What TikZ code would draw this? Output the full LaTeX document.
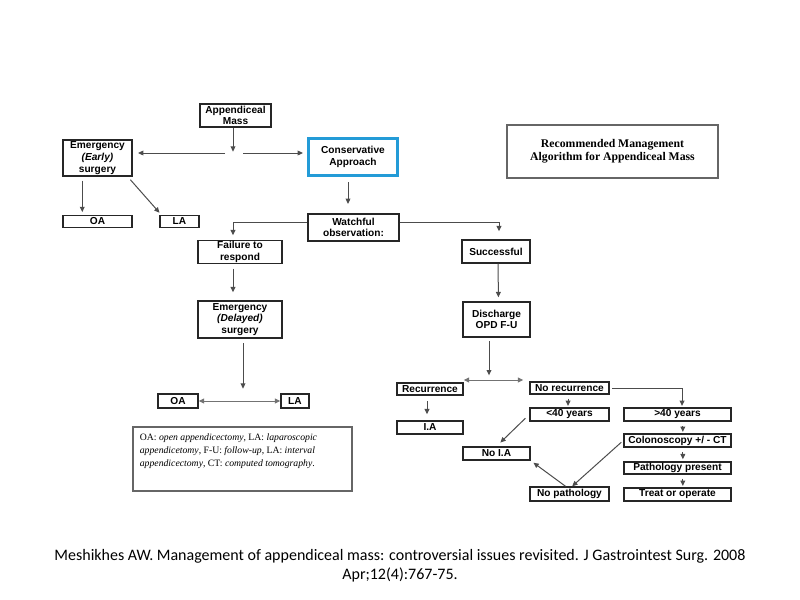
\documentclass[tikz,border=0pt]{standalone}
\usepackage{fontspec}
\setmainfont{Liberation Sans}
\newfontfamily\timesfont{Liberation Serif}
\newfontfamily\calibrifont{Carlito}
\usetikzlibrary{arrows.meta}

\definecolor{approachblue}{RGB}{35,155,215}

\begin{document}
\begin{tikzpicture}[x=0.75pt, y=-0.75pt,
    box/.style={draw=black!85, line width=1.1pt, inner sep=0pt, align=center,
      font=\fontsize{7.6}{8.8}\selectfont\bfseries},
    arr/.style={draw=black!70, line width=0.75pt,
      -{Triangle[length=4pt,width=3.6pt]}},
    dblarr/.style={draw=black!55, line width=0.75pt,
      {Triangle[length=4pt,width=3.6pt]}-{Triangle[length=4pt,width=3.6pt]}}]

    \useasboundingbox (0,0) rectangle (800,600);

    % Start
    \node[box, minimum width=53.25pt, minimum height=17.25pt] (mass) at (235.5, 115.5)
    {Appendiceal\\Mass};
    \node[box, minimum width=51.75pt, minimum height=27pt] (early) at (97.5, 158)
    {Emergency\\\textit{(Early)}\\surgery};
    \node[box, draw=approachblue, line width=2.6pt, minimum width=66.5pt,
    minimum height=27.5pt] (consv) at (353, 157) {Conservative\\Approach};
    \coordinate (fork1) at (233, 153);

    % Early surgery
    \node[box, minimum width=51.75pt, minimum height=9pt] (oaE) at (97.5, 221.5) {OA};
    \node[box, minimum width=29.25pt, minimum height=9pt] (laE) at (179.5, 221.5) {LA};

    % Watchful observation
    \node[box, minimum width=68.25pt, minimum height=20.25pt] (watch) at (353.5, 227.5)
    {Watchful\\observation:};
    \node[box, minimum width=63pt, minimum height=17pt] (fail) at (240, 252)
    {Failure to\\respond};
    \node[box, minimum width=51pt, minimum height=17.25pt] (succ) at (496, 251.5)
    {Successful};

    % Failure
    \node[box, minimum width=63pt, minimum height=27.75pt] (delay) at (240, 319.5)
    {Emergency\\\textit{(Delayed)}\\surgery};
    \node[box, minimum width=30pt, minimum height=10.5pt] (oaD) at (178, 401) {OA};
    \node[box, minimum width=21pt, minimum height=10.5pt] (laD) at (295, 401) {LA};
    \coordinate (fork2) at (243, 398);

    % Success
    \node[box, minimum width=50.25pt, minimum height=26.25pt] (disch) at (496.5, 319.5)
    {Discharge\\OPD F-U};
    \coordinate (fork3) at (489, 380);
    \node[box, minimum width=49.5pt, minimum height=9pt] (recur) at (430, 389) {Recurrence};
    \node[box, minimum width=49.5pt, minimum height=9.75pt] (ia) at (430, 427.5) {I.A};
    \node[box, minimum width=59.25pt, minimum height=9pt] (norec) at (569.5, 388)
    {No recurrence};
    \node[box, minimum width=59.25pt, minimum height=9.75pt] (young) at (569.5, 414.5)
    {<40 years};
    \node[box, minimum width=80.25pt, minimum height=9.75pt] (old) at (677.5, 414.5)
    {>40 years};
    \node[box, minimum width=80.25pt, minimum height=9.75pt] (colon) at (677.5, 440.5)
    {Colonoscopy +/ - CT};
    \node[box, minimum width=80.25pt, minimum height=9pt] (path) at (677.5, 468)
    {Pathology present};
    \node[box, minimum width=80.25pt, minimum height=9.75pt] (treat) at (677.5, 494.5)
    {Treat or operate};
    \node[box, minimum width=50.25pt, minimum height=9.75pt] (noia) at (496.5, 453.5)
    {No I.A};
    \node[box, minimum width=59.25pt, minimum height=10.5pt] (nopath) at (569.5, 494)
    {No pathology};

    % Title and legend
    \node[draw=black!60, line width=0.8pt, minimum width=158.25pt, minimum height=39.75pt,
    align=center, font=\timesfont\fontsize{8.8}{10}\selectfont\bfseries] (title)
    at (612.5, 151.5) {Recommended Management\\Algorithm for Appendiceal Mass};
    \node[draw=black!60, line width=0.8pt, minimum width=164.25pt, minimum height=48pt,
    inner sep=0pt, font=\timesfont\fontsize{7.3}{9.6}\selectfont] (legend)
    at (242.5, 459) {\parbox[c][38pt][t]{154pt}{\raggedright
    OA: \textit{open appendicectomy}, LA: \textit{laparoscopic}\\
    \textit{appendicetomy}, F-U: \textit{follow-up}, LA: \textit{interval}\\
    \textit{appendicectomy}, CT: \textit{computed tomography}.}};

    % Reference
    \node[align=center, font=\calibrifont\fontsize{12}{14.4}\selectfont] (ref) at (400, 566)
    {Meshikhes AW. Management of appendiceal mass: controversial issues revisited. J Gastrointest Surg. 2008\\
    Apr;12(4):767-75.};

    % Lines
    \draw[arr, shorten >=1pt] (mass.south -| fork1) -- (fork1);
    \draw[arr, shorten <=6pt, shorten >=4pt] (fork1) -- (early.east |- fork1);
    \draw[arr, shorten <=7.5pt, shorten >=3pt] (fork1) -- (consv.west |- fork1);
    \draw[arr, shorten <=3pt, shorten >=2pt] (early.south -| oaE.west) ++(15pt,0)
    coordinate (e1) (e1) -- (e1 |- oaE.north);
    \draw[arr, shorten <=3pt, shorten >=2pt] ([xshift=-3.75pt]early.south east)
    -- ([xshift=1.5pt]laE.north west);
    \draw[arr, shorten <=4pt, shorten >=7pt] (consv.south -| 348, 0) -- (watch.north -| 348, 0);
    \draw[arr, shorten >=3.5pt] ([yshift=3.4pt]watch.west) -| ([xshift=-5.25pt]fail.north);
    \draw[arr, shorten >=6pt] ([yshift=3.4pt]watch.east) -| ([xshift=2.25pt]succ.north);
    \draw[arr, shorten <=3.5pt, shorten >=6pt] ([xshift=-5.25pt]fail.south)
    -- ([xshift=-5.25pt]delay.north);
    \draw[arr, shorten <=3.5pt, shorten >=7pt] (delay.south -| fork2) -- (fork2);
    \draw[dblarr] (oaD.east) -- (laD.west);
    \draw[arr, shorten >=3pt] ([xshift=1.5pt]succ.south) -- ([xshift=1.5pt]disch.north);
    \draw[arr, shorten <=2.5pt, shorten >=3.5pt] (disch.south -| fork3) -- (fork3);
    \draw[dblarr, shorten >=4.5pt] (fork3 -| recur.east) -- (fork3 -| norec.west);
    \draw[arr, shorten <=4pt, shorten >=4.5pt] (recur.south -| 427, 0) -- (ia.north -| 427, 0);
    \draw[arr, shorten <=3pt, shorten >=1pt] ([xshift=-1.1pt]norec.south)
    -- ([xshift=-1.1pt]young.north);
    \draw[arr, shorten <=2pt, shorten >=1pt] (norec.east) -| ([xshift=3.4pt]old.north);
    \draw[arr, shorten <=3.5pt, shorten >=1pt] ([xshift=4pt]old.south)
    -- ([xshift=4pt]colon.north);
    \draw[arr, shorten <=3.5pt, shorten >=1.5pt] ([xshift=4pt]colon.south)
    -- ([xshift=4pt]path.north);
    \draw[arr, shorten <=3pt, shorten >=1pt] ([xshift=4pt]path.south)
    -- ([xshift=4pt]treat.north);
    \draw[arr, shorten <=4pt, shorten >=4pt] (young.west) -- (noia.north);
    \draw[arr, shorten <=2pt] (colon.west) -- ([xshift=2pt]nopath.north);
    \draw[arr, shorten >=2.5pt] ([xshift=-3pt]nopath.north) -- (noia.south east);

\end{tikzpicture}
\end{document}
